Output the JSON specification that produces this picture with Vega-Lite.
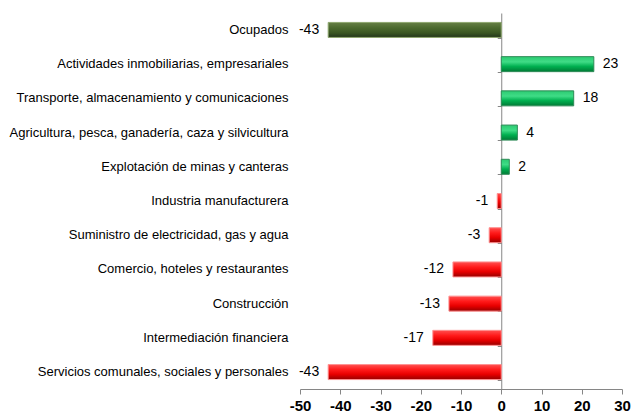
{
  "$schema": "https://vega.github.io/schema/vega-lite/v6.json",
  "width": 322,
  "height": 376,
  "autosize": "none",
  "padding": {"left": 300, "top": 13, "right": 9, "bottom": 30},
  "background": "white",
  "config": {"view": {"stroke": null}, "font": "Liberation Sans",
    "locale": {"number": {"decimal": ".", "thousands": ",", "grouping": [3], "currency": ["$", ""], "minus": "-"}}},
  "data": {"values": [
    {"cat": "Ocupados", "v": -43},
    {"cat": "Actividades inmobiliarias, empresariales", "v": 23},
    {"cat": "Transporte, almacenamiento y comunicaciones", "v": 18},
    {"cat": "Agricultura, pesca, ganadería, caza y silvicultura", "v": 4},
    {"cat": "Explotación de minas y canteras", "v": 2},
    {"cat": "Industria manufacturera", "v": -1},
    {"cat": "Suministro de electricidad, gas y agua", "v": -3},
    {"cat": "Comercio, hoteles y restaurantes", "v": -12},
    {"cat": "Construcción", "v": -13},
    {"cat": "Intermediación financiera", "v": -17},
    {"cat": "Servicios comunales, sociales y personales", "v": -43}
  ]},
  "resolve": {"axis": {"y": "independent"}},
  "layer": [
    {
      "mark": {"type": "bar", "height": 15, "strokeWidth": 1},
      "encoding": {
        "y": {"field": "cat", "type": "nominal", "sort": null, "scale": {"paddingInner": 0.55, "paddingOuter": 0.27},
          "axis": {"title": null, "domain": false, "ticks": false, "tickSize": 0, "labelPadding": 12, "labelFontSize": 13, "labelLimit": 0, "labelColor": "#000", "labelFont": "Liberation Sans"}},
        "x": {"field": "v", "type": "quantitative", "scale": {"domain": [-50, 30], "nice": false},
          "axis": {"title": null, "values": [-50, -40, -30, -20, -10, 0, 10, 20, 30], "grid": false, "domainColor": "#868686", "tickColor": "#868686", "tickSize": 5, "labelFontSize": 15, "labelFontWeight": "bold", "labelColor": "#000", "labelPadding": 4, "labelOverlap": false, "labelBound": false, "labelFlush": false, "labelFont": "Liberation Sans"}},
        "color": {
          "condition": [
            {"test": "datum.cat === 'Ocupados'", "value": {"gradient": "linear", "x1": 0, "y1": 0, "x2": 0, "y2": 1, "stops": [{"offset": 0, "color": "#667f45"}, {"offset": 0.35, "color": "#4c6a2e"}, {"offset": 0.7, "color": "#3a5622"}, {"offset": 1, "color": "#22341a"}]}},
            {"test": "datum.v > 0", "value": {"gradient": "linear", "x1": 0, "y1": 0, "x2": 0, "y2": 1, "stops": [{"offset": 0, "color": "#2ccb72"}, {"offset": 0.35, "color": "#3fdc86"}, {"offset": 0.65, "color": "#00b050"}, {"offset": 1, "color": "#007a35"}]}}
          ],
          "value": {"gradient": "linear", "x1": 0, "y1": 0, "x2": 0, "y2": 1, "stops": [{"offset": 0, "color": "#ff5050"}, {"offset": 0.35, "color": "#ff1a1a"}, {"offset": 0.65, "color": "#e80000"}, {"offset": 1, "color": "#960000"}]}
        },
        "stroke": {
          "condition": [
            {"test": "datum.cat === 'Ocupados'", "value": "#8fa870"},
            {"test": "datum.v > 0", "value": "#2e8b57"}
          ],
          "value": "#ff9090"
        }
      }
    },
    {
      "transform": [{"filter": "datum.v > 0"}],
      "mark": {"type": "text", "align": "left", "baseline": "middle", "dx": 9, "fontSize": 14, "font": "Liberation Sans", "color": "#000"},
      "encoding": {
        "y": {"field": "cat", "type": "nominal", "sort": null,
          "axis": {"title": null, "orient": "left", "offset": -201.25, "labels": false, "domain": true, "domainColor": "#868686", "ticks": true, "tickColor": "#868686", "tickSize": 4, "tickBand": "extent"}},
        "x": {"field": "v", "type": "quantitative"},
        "text": {"field": "v", "type": "quantitative"}
      }
    },
    {
      "transform": [{"filter": "datum.v < 0"}],
      "mark": {"type": "text", "align": "right", "baseline": "middle", "dx": -9, "fontSize": 14, "font": "Liberation Sans", "color": "#000"},
      "encoding": {
        "y": {"field": "cat", "type": "nominal", "sort": null, "axis": null},
        "x": {"field": "v", "type": "quantitative"},
        "text": {"field": "v", "type": "quantitative"}
      }
    }
  ]
}
